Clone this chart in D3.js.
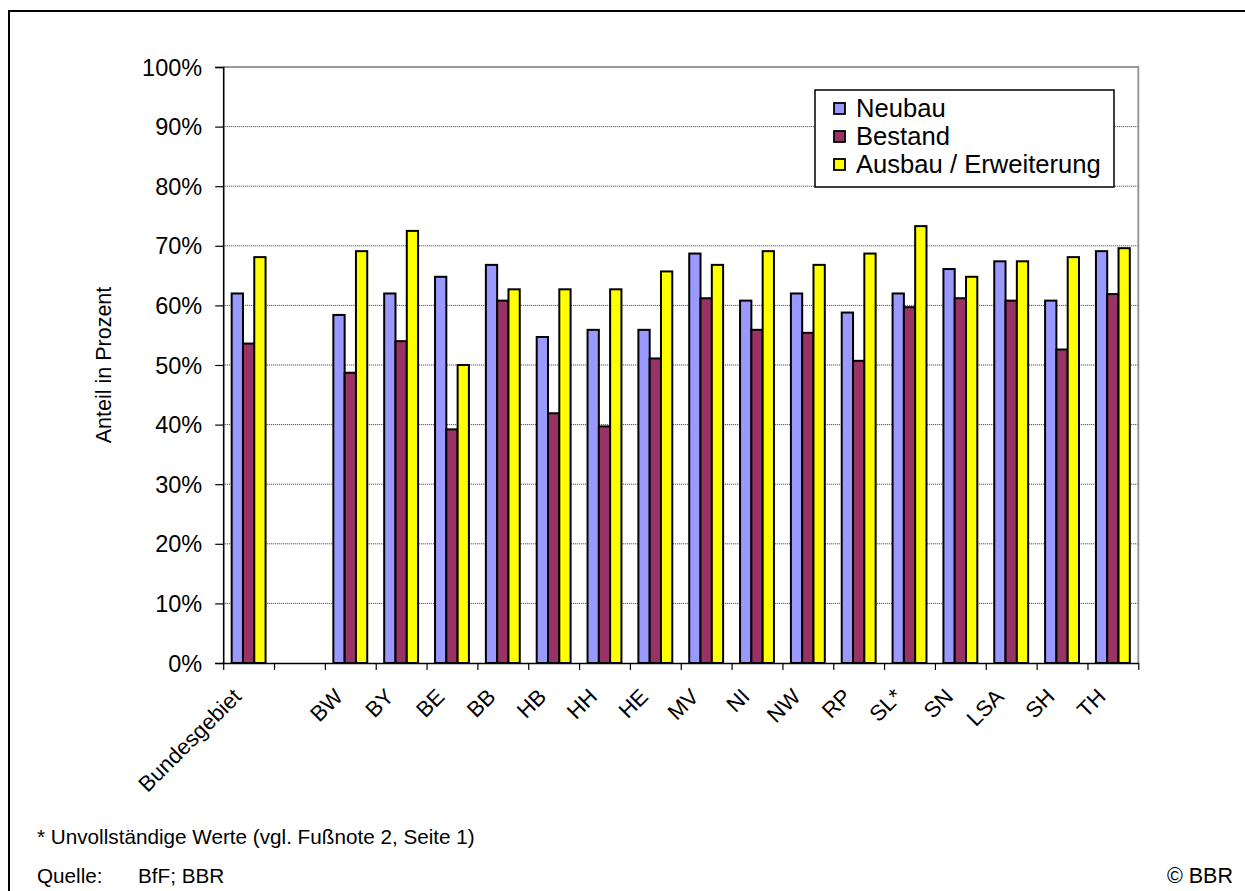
<!DOCTYPE html>
<html lang="de">
<head>
<meta charset="utf-8">
<title>Anteil in Prozent nach Bundesland</title>
<script src="https://cdn.jsdelivr.net/npm/d3@7"></script>
<style>
  html, body { margin: 0; padding: 0; background: #fff; }
  svg { display: block; font-family: "Liberation Sans", Arial, Helvetica, sans-serif; }
</style>
</head>
<body>
<svg id="chart" width="1245" height="891"></svg>
<script>
// Kategorien (zweite Position bleibt als Abstand leer)
const categories = ["Bundesgebiet", "", "BW", "BY", "BE", "BB", "HB", "HH", "HE", "MV", "NI", "NW", "RP", "SL*", "SN", "LSA", "SH", "TH"];

// Werte in Prozent
const neubau  = [62.0, null, 58.4, 62.0, 64.8, 66.8, 54.7, 55.9, 55.9, 68.7, 60.8, 62.0, 58.8, 62.0, 66.1, 67.4, 60.8, 69.1];
const bestand = [53.6, null, 48.7, 54.0, 39.2, 60.8, 41.9, 39.7, 51.1, 61.2, 55.9, 55.4, 50.7, 59.7, 61.2, 60.8, 52.6, 61.9];
const ausbau  = [68.1, null, 69.1, 72.5, 50.0, 62.7, 62.7, 62.7, 65.7, 66.8, 69.1, 66.8, 68.7, 73.3, 64.8, 67.4, 68.1, 69.6];

const seriesNames = ["Neubau", "Bestand", "Ausbau / Erweiterung"];
const seriesColors = ["#9999FF", "#993366", "#FFFF00"];
const yTicks = [0, 10, 20, 30, 40, 50, 60, 70, 80, 90, 100];

const footnote = "* Unvollständige Werte (vgl. Fußnote 2, Seite 1)";
const sourceLabel = "Quelle:";
const sourceText = "BfF; BBR";
const copyright = "© BBR";

const svg = d3.select("#chart");

// Rahmen (links und oben)
svg.append("line").attr("x1", 9).attr("x2", 9).attr("y1", 10).attr("y2", 891)
  .attr("stroke", "#000").attr("stroke-width", 2);
svg.append("line").attr("x1", 8).attr("x2", 1245).attr("y1", 11).attr("y2", 11)
  .attr("stroke", "#000").attr("stroke-width", 2);

const plot = { left: 223.2, right: 1138.3, top: 67, bottom: 663 };

const x = d3.scaleBand().domain(categories).range([plot.left, plot.right]).paddingInner(0).paddingOuter(0);
const groupWidth = x.bandwidth() / 1.5;
const xs = d3.scaleBand().domain(seriesNames).range([0, groupWidth]).padding(0);
const y = d3.scaleLinear().domain([0, 100]).range([plot.bottom, plot.top]);

// Gitterlinien
svg.append("g").selectAll("line")
  .data(yTicks.filter(t => t > 0 && t < 100))
  .join("line")
  .attr("x1", plot.left).attr("x2", plot.right)
  .attr("y1", d => y(d)).attr("y2", d => y(d))
  .attr("stroke", "#333").attr("stroke-width", 1).attr("stroke-dasharray", "1 1");

// Rand der Zeichenfläche (oben, rechts)
svg.append("path")
  .attr("d", `M${plot.left},${y(100)}H${plot.right}V${plot.bottom}`)
  .attr("fill", "none").attr("stroke", "#999").attr("stroke-width", 2);

// Balken
const seriesValues = [neubau, bestand, ausbau];
const rows = [];
categories.forEach((c, i) => {
  seriesNames.forEach((s, j) => {
    const v = seriesValues[j][i];
    if (v != null) rows.push({ cat: c, series: s, color: seriesColors[j], value: v });
  });
});

svg.append("g").selectAll("rect")
  .data(rows)
  .join("rect")
  .attr("x", d => x(d.cat) + (x.bandwidth() - groupWidth) / 2 + xs(d.series))
  .attr("width", xs.bandwidth())
  .attr("y", d => y(d.value))
  .attr("height", d => y(0) - y(d.value))
  .attr("fill", d => d.color)
  .attr("stroke", "#000")
  .attr("stroke-width", 2);

// Y-Achse
const yAxis = svg.append("g")
  .attr("transform", `translate(${plot.left},0)`)
  .call(d3.axisLeft(y).tickValues(yTicks).tickFormat(d => d + "%").tickSize(8).tickPadding(13));
yAxis.select(".domain").attr("stroke", "#000").attr("stroke-width", 1.6);
yAxis.selectAll(".tick line").attr("stroke", "#000").attr("stroke-width", 1.2);
yAxis.selectAll(".tick text")
  .attr("font-size", 23.5).attr("font-family", "Liberation Sans, Arial, sans-serif")
  .attr("fill", "#000").attr("dy", "0.34em");

// X-Achse: Teilstriche an den Kategoriegrenzen
const xEdge = d3.scaleLinear().domain([0, categories.length]).range([plot.left, plot.right]);
const xTickAxis = svg.append("g")
  .attr("transform", `translate(0,${plot.bottom})`)
  .call(d3.axisBottom(xEdge).tickValues(d3.range(0, categories.length + 1)).tickFormat("").tickSize(7).tickSizeOuter(0));
xTickAxis.select(".domain").attr("stroke", "#000").attr("stroke-width", 1.6);
xTickAxis.selectAll(".tick line").attr("stroke", "#000").attr("stroke-width", 1.2);

// X-Achse: Beschriftungen, um 45° gedreht
const xLabelAxis = svg.append("g")
  .attr("transform", `translate(0,${plot.bottom})`)
  .call(d3.axisBottom(x).tickSize(0));
xLabelAxis.select(".domain").remove();
xLabelAxis.selectAll(".tick text")
  .attr("font-size", 22).attr("font-family", "Liberation Sans, Arial, sans-serif")
  .attr("fill", "#000")
  .attr("x", 0).attr("y", 0).attr("dy", 0)
  .attr("transform", "translate(-6,35) rotate(-45)")
  .style("text-anchor", "end");

// Achsentitel
svg.append("text")
  .attr("transform", `translate(111,${(plot.top + plot.bottom) / 2}) rotate(-90)`)
  .attr("text-anchor", "middle")
  .attr("font-size", 21.5)
  .text("Anteil in Prozent");

// Legende
const legend = svg.append("g");
legend.append("rect")
  .attr("x", 815).attr("y", 90).attr("width", 299).attr("height", 97)
  .attr("fill", "#fff").attr("stroke", "#000").attr("stroke-width", 1.5);
const items = legend.selectAll("g.item")
  .data(seriesNames)
  .join("g")
  .attr("class", "item")
  .attr("transform", (d, i) => `translate(0,${i * 28})`);
items.append("rect")
  .attr("x", 834).attr("y", 103).attr("width", 11).attr("height", 11)
  .attr("fill", (d, i) => seriesColors[i]).attr("stroke", "#000").attr("stroke-width", 1.8);
items.append("text")
  .attr("x", 856).attr("y", 117)
  .attr("font-size", 25.6)
  .text(d => d);

// Fußzeilen
svg.append("text").attr("x", 37).attr("y", 844).attr("font-size", 20.7).text(footnote);
svg.append("text").attr("x", 37).attr("y", 883).attr("font-size", 20.7).text(sourceLabel);
svg.append("text").attr("x", 138).attr("y", 883).attr("font-size", 20.7).text(sourceText);
svg.append("text").attr("x", 1233).attr("y", 883).attr("font-size", 21.5).attr("text-anchor", "end").text(copyright);
</script>
</body>
</html>
